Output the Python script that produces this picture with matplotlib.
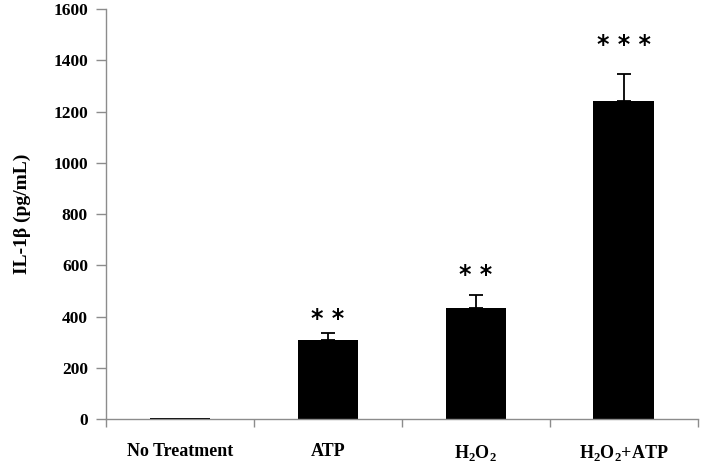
import matplotlib
matplotlib.use("Agg")
import matplotlib.pyplot as plt
import numpy as np

# data
categories = ["No Treatment", "ATP", r"H$_{\mathbf{2}}$O$_{\mathbf{2}}$",
              r"H$_{\mathbf{2}}$O$_{\mathbf{2}}$+ATP"]
il1b = [5, 309, 434, 1240]
err = [0, 25, 52, 108]
stars = ["", "* *", "* *", "* * *"]
star_gap = [0, 55, 78, 112]

serif = ["Liberation Serif", "DejaVu Serif"]
axis_grey = "#8c8c8c"

plt.rcParams["mathtext.fontset"] = "custom"
plt.rcParams["mathtext.rm"] = "Liberation Serif"
plt.rcParams["mathtext.bf"] = "Liberation Serif:bold"

fig = plt.figure(figsize=(7.02, 4.62), dpi=100)
ax = fig.add_axes([0.151, 0.093, 0.843, 0.887])

x = np.arange(len(categories))
ax.bar(x, il1b, width=0.41, color="black", zorder=2)
ax.errorbar(x[1:], il1b[1:], yerr=[np.zeros(3), err[1:]], fmt="none",
            ecolor="black", elinewidth=1.3, capsize=5, capthick=1.3, zorder=3)

for xi, v, e, s, g in zip(x, il1b, err, stars, star_gap):
    if s:
        ax.text(xi, v + e + g, s, ha="center", va="center",
                fontsize=17, fontweight="bold", family="DejaVu Sans",
                color="black")

ax.set_xlim(-0.5, 3.5)
ax.set_ylim(0, 1600)
ax.set_yticks(np.arange(0, 1601, 200))

# boundary ticks on x, labels at category centres
ax.set_xticks(np.arange(-0.5, 3.6, 1.0))
ax.set_xticklabels([])
ax.set_xticks(x, minor=True)
ax.set_xticklabels(categories, minor=True)
ax.tick_params(axis="x", which="minor", length=0, pad=17)
ax.tick_params(axis="x", which="major", length=6, direction="out",
               color=axis_grey, width=1)
ax.tick_params(axis="y", length=7, direction="out", color=axis_grey,
               width=1, pad=6)

for lab in ax.get_xticklabels(minor=True):
    lab.set_family(serif)
    lab.set_fontweight("bold")
    lab.set_fontsize(13)
for lab in ax.get_yticklabels():
    lab.set_family(serif)
    lab.set_fontweight("bold")
    lab.set_fontsize(12.5)

ax.set_ylabel("IL-1\u03b2 (pg/mL)", family=serif, fontweight="bold",
              fontsize=14, labelpad=16)

for side in ["top", "right"]:
    ax.spines[side].set_visible(False)
for side in ["left", "bottom"]:
    ax.spines[side].set_color(axis_grey)
    ax.spines[side].set_linewidth(1)

fig.savefig("out.png", dpi=100)
